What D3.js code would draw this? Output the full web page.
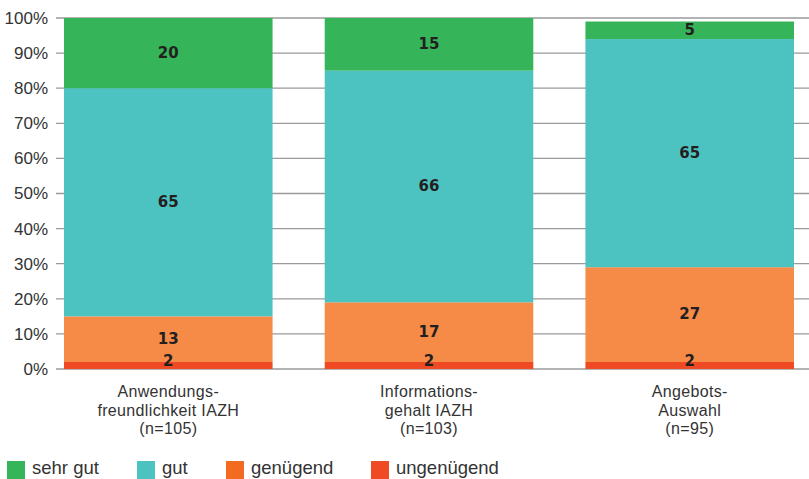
<!DOCTYPE html>
<html>
<head>
<meta charset="utf-8">
<script src="https://cdn.jsdelivr.net/npm/d3@7"></script>
<style>
  body { margin: 0; background: #fff; }
  text { font-family: "Liberation Sans", Arial, sans-serif; fill: #333; }
  .val { font-family: "DejaVu Sans", sans-serif; font-weight: bold; fill: #231f20; font-size: 15px; }
</style>
</head>
<body>
<div id="chart"></div>
<script>
// ---------------- data ----------------
var categories = [
    ["Anwendungs-", "freundlichkeit IAZH", "(n=105)"],
    ["Informations-", "gehalt IAZH", "(n=103)"],
    ["Angebots-", "Auswahl", "(n=95)"]
];
var series = ["ungenügend", "genügend", "gut", "sehr gut"];
var ungenuegend = [2, 2, 2];
var genuegend = [13, 17, 27];
var gut = [65, 66, 65];
var sehrGut = [20, 15, 5];
var yTicks = [0, 10, 20, 30, 40, 50, 60, 70, 80, 90, 100];

var colors = {"ungenügend": "#ef4a23", "genügend": "#f58b47", "gut": "#4dc3c1", "sehr gut": "#36b459"};
var legendColors = {"ungenügend": "#ef4a23", "genügend": "#f26b21", "gut": "#4dc3c1", "sehr gut": "#36b459"};
var legendOrder = ["sehr gut", "gut", "genügend", "ungenügend"];

var rows = categories.map(function(c, i) {
    return {i: i, "ungenügend": ungenuegend[i], "genügend": genuegend[i], "gut": gut[i], "sehr gut": sehrGut[i]};
});

// ---------------- layout ----------------
var W = 809, H = 479;
var svg = d3.select("#chart").append("svg").attr("width", W).attr("height", H);

var x = d3.scaleBand().domain(d3.range(categories.length)).range([64, 794]).paddingInner(0.2).paddingOuter(0);
var y = d3.scaleLinear().domain([0, 100]).range([369, 18]);

// gridlines
svg.append("g").selectAll("line").data(yTicks).enter().append("line")
    .attr("x1", 56).attr("x2", W)
    .attr("y1", function(d) { return y(d); }).attr("y2", function(d) { return y(d); })
    .attr("stroke", "#9a9a9a").attr("stroke-width", 1.3);

svg.append("g").selectAll("text").data(yTicks).enter().append("text")
    .attr("x", 48).attr("y", function(d) { return y(d); })
    .attr("dy", "0.35em").attr("text-anchor", "end")
    .style("font-size", "17px")
    .text(function(d) { return d + "%"; });

// bars
var stack = d3.stack().keys(series)(rows);
var layers = svg.append("g").selectAll("g").data(stack).enter().append("g")
    .attr("fill", function(d) { return colors[d.key]; });

layers.selectAll("rect").data(function(d) { return d; }).enter().append("rect")
    .attr("x", function(d) { return x(d.data.i); })
    .attr("width", x.bandwidth())
    .attr("y", function(d) { return y(d[1]); })
    .attr("height", function(d) { return y(d[0]) - y(d[1]); });

// value labels, drawn above all segments
var labels = svg.append("g").selectAll("g").data(stack).enter().append("g");
labels.selectAll("text").data(function(d) { return d; }).enter().append("text")
    .attr("class", "val")
    .attr("x", function(d) { return x(d.data.i) + x.bandwidth() / 2; })
    .attr("y", function(d) { return Math.min((y(d[0]) + y(d[1])) / 2 - 1, y(0) - 8); })
    .attr("dy", "0.36em").attr("text-anchor", "middle")
    .text(function(d) { return d[1] - d[0]; });

// category labels
var cat = svg.append("g").selectAll("text").data(categories).enter().append("text")
    .attr("text-anchor", "middle")
    .attr("transform", function(d, i) { return "translate(" + (x(i) + x.bandwidth() / 2) + ",397)"; })
    .style("font-size", "16px")
    .style("letter-spacing", "0.35px");
cat.selectAll("tspan").data(function(d) { return d; }).enter().append("tspan")
    .attr("x", 0).attr("y", function(d, j) { return j * 18.5; })
    .text(function(d) { return d; });

// legend
var legendX = [7, 137, 226, 371];
var lg = svg.append("g").selectAll("g").data(legendOrder).enter().append("g")
    .attr("transform", function(d, i) { return "translate(" + legendX[i] + ",461)"; });
lg.append("rect").attr("width", 18).attr("height", 18)
    .attr("fill", function(d) { return legendColors[d]; });
lg.append("text").attr("x", 25).attr("y", 13)
    .style("font-size", "18.5px")
    .text(function(d) { return d; });
</script>
</body>
</html>
